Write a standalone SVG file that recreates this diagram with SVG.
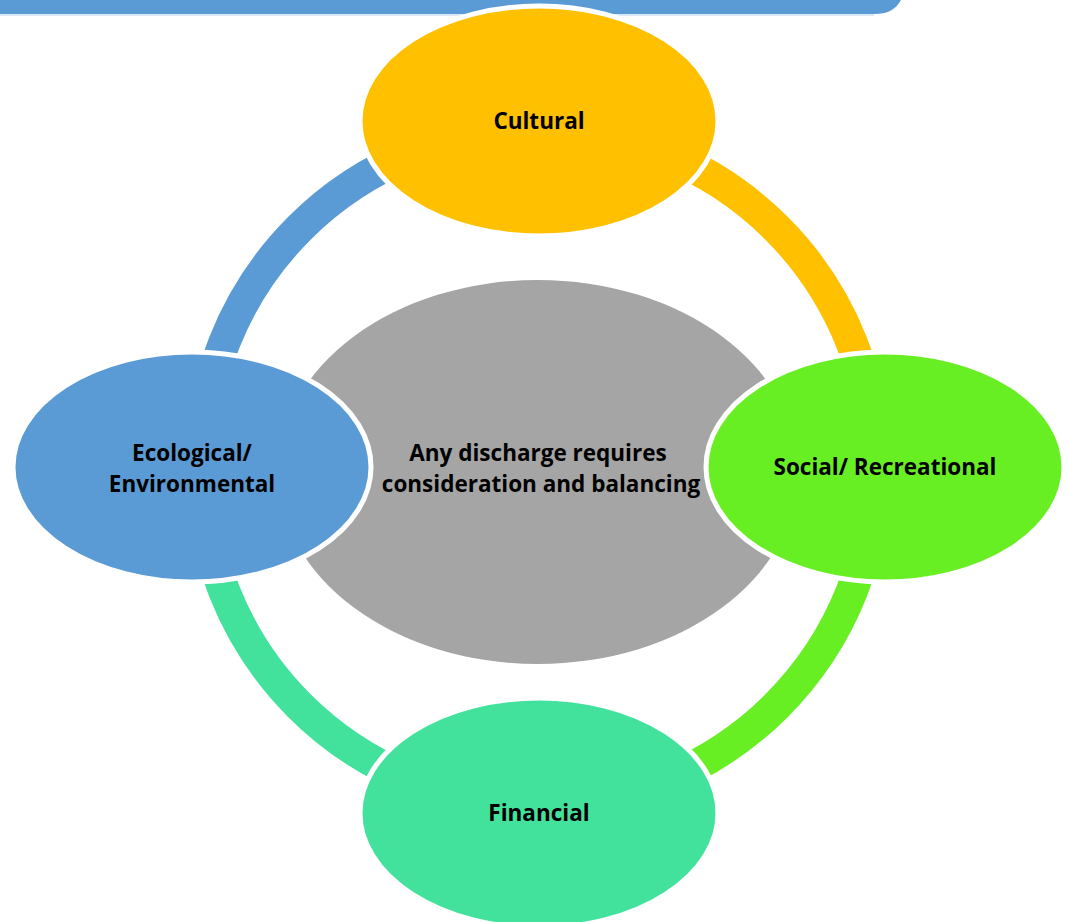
<svg xmlns="http://www.w3.org/2000/svg" width="1068" height="922" viewBox="0 0 1068 922">
<style>
.ring{fill:none;stroke-width:32}
.node{stroke:#fff;stroke-width:5}
.lbl{font-family:"Open Sans","Noto Sans","Liberation Sans",sans-serif;font-weight:bold;font-size:22.5px;fill:#000;text-anchor:middle}
</style>
<rect width="1068" height="922" fill="#fff"/>
<g id="banner">
<path d="M0 0 H901 C895 10 888 14 874 14 H0 Z" fill="#5B9BD5"/>
<line x1="0" y1="15" x2="874" y2="15" stroke="#CFE0F2" stroke-width="1.5"/>
</g>
<g id="connectors">
<path class="ring" stroke="#5B9BD5" d="M200.5 467 A337.5 337.5 0 0 1 538 129.5"/>
<path class="ring" stroke="#FFC000" d="M538 129.5 A337.5 337.5 0 0 1 875.5 467"/>
<path class="ring" stroke="#68EF24" d="M875.5 467 A337.5 337.5 0 0 1 538 804.5"/>
<path class="ring" stroke="#42E29C" d="M538 804.5 A337.5 337.5 0 0 1 200.5 467"/>
</g>
<g id="center">
<ellipse cx="538" cy="472" rx="260" ry="192" fill="#A5A5A5"/>
<text class="lbl" x="538" y="461">Any discharge requires</text>
<text class="lbl" x="541" y="492">consideration and balancing</text>
</g>
<g id="cultural">
<ellipse class="node" cx="539" cy="121" rx="179" ry="115" fill="#FFC000"/>
<text class="lbl" x="539" y="129">Cultural</text>
</g>
<g id="ecological">
<ellipse class="node" cx="192" cy="467" rx="179" ry="115" fill="#5B9BD5"/>
<text class="lbl" x="192" y="461">Ecological/</text>
<text class="lbl" x="192" y="492">Environmental</text>
</g>
<g id="social">
<ellipse class="node" cx="885" cy="467" rx="179" ry="115" fill="#68EF24"/>
<text class="lbl" x="885" y="475">Social/ Recreational</text>
</g>
<g id="financial">
<ellipse class="node" cx="539" cy="813" rx="179" ry="115" fill="#42E29C"/>
<text class="lbl" x="539" y="821">Financial</text>
</g>
</svg>
